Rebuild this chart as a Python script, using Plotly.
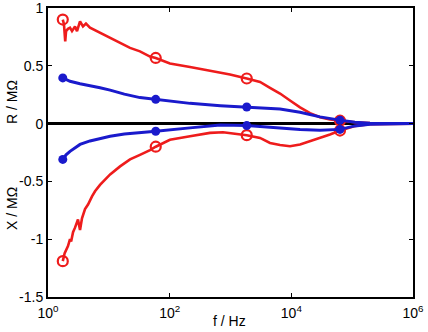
import plotly.graph_objects as go

# frequencies (Hz) of curve samples
red_R_f = [1.75, 1.83, 1.92, 1.98, 2.13, 2.30, 2.48, 2.78, 3.0, 3.36, 3.76, 4.21, 4.90, 7.16,
           10.5, 15.3, 22.3, 32.5, 47.5, 59, 101, 216, 460, 982, 1850, 3060, 4460, 6520,
           9510, 13900, 20300, 29600, 43200, 63100, 111000, 196000, 419000, 1e6]
red_R = [0.90, 0.86, 0.71, 0.80, 0.82, 0.83, 0.80, 0.84, 0.80, 0.885, 0.84, 0.865, 0.83, 0.785,
         0.74, 0.70, 0.655, 0.625, 0.58, 0.568, 0.52, 0.49, 0.46, 0.425, 0.39, 0.36, 0.31, 0.26,
         0.20, 0.14, 0.09, 0.055, 0.035, 0.025, 0.012, 0.005, 0.002, 0.0]

red_X_f = [1.75, 1.88, 2.13, 2.30, 2.40, 2.58, 2.78, 3.11, 3.36, 3.62, 4.06, 4.55, 5.29, 5.93,
           7.16, 10.5, 15.3, 22.3, 32.5, 47.5, 59, 101, 216, 460, 753, 1850, 3060, 4460,
           6520, 9510, 13900, 20300, 29600, 43200, 63100, 111000, 196000, 419000, 1e6]
red_X = [-1.19, -1.12, -1.06, -1.0, -1.02, -0.94, -0.90, -0.83, -0.92, -0.82, -0.74, -0.70, -0.63, -0.585,
         -0.53, -0.44, -0.37, -0.31, -0.27, -0.23, -0.20, -0.14, -0.11, -0.08, -0.075, -0.10, -0.124, -0.167,
         -0.185, -0.196, -0.18, -0.153, -0.124, -0.095, -0.06, -0.02, -0.005, -0.001, 0.0]

blue_R_f = [1.75, 2.30, 3.36, 4.90, 7.16, 10.5, 18.0, 32.5, 59, 216, 680, 1850, 3060, 6520,
            13900, 29600, 63100, 111000, 196000, 1e6]
blue_R = [0.395, 0.366, 0.345, 0.33, 0.31, 0.29, 0.255, 0.225, 0.21, 0.175, 0.155, 0.144, 0.136, 0.127,
          0.098, 0.058, 0.03, 0.012, 0.004, 0.0]

blue_X_f = [1.75, 1.98, 2.30, 3.36, 4.90, 7.16, 10.5, 18.0, 32.5, 59, 216, 680, 1850, 3060,
            6520, 13900, 29600, 63100, 111000, 196000, 1e6]
blue_X = [-0.31, -0.27, -0.24, -0.18, -0.15, -0.13, -0.11, -0.09, -0.08, -0.066, -0.037, -0.012, -0.017, -0.023,
          -0.037, -0.05, -0.058, -0.05, -0.02, -0.005, 0.0]

# marker frequencies and values
mark_f = [1.75, 59, 1850, 63100]
red_R_m = [0.90, 0.568, 0.39, 0.025]
red_X_m = [-1.19, -0.20, -0.10, -0.06]
blue_R_m = [0.395, 0.21, 0.144, 0.03]
blue_X_m = [-0.31, -0.066, -0.017, -0.05]

x_tickvals = [1, 100, 1e4, 1e6]
x_ticktext = ["10<sup>0</sup>", "10<sup>2</sup>", "10<sup>4</sup>", "10<sup>6</sup>"]
y_tickvals = [1, 0.5, 0, -0.5, -1, -1.5]
y_ticktext = ["1", "0.5", "0", "-0.5", "-1", "-1.5"]

RED = "#ee1c1c"
BLUE = "#1a1acc"

fig = go.Figure()
for f, v in [(red_R_f, red_R), (red_X_f, red_X)]:
    fig.add_trace(go.Scatter(x=f, y=v, mode="lines", line=dict(color=RED, width=2.6),
                             showlegend=False, hoverinfo="skip"))
for v in [red_R_m, red_X_m]:
    fig.add_trace(go.Scatter(x=mark_f, y=v, mode="markers",
                             marker=dict(color=RED, size=10, symbol="circle-open",
                                         line=dict(color=RED, width=2.2)),
                             showlegend=False))
for f, v in [(blue_R_f, blue_R), (blue_X_f, blue_X)]:
    fig.add_trace(go.Scatter(x=f, y=v, mode="lines", line=dict(color=BLUE, width=3),
                             showlegend=False, hoverinfo="skip"))
for v in [blue_R_m, blue_X_m]:
    fig.add_trace(go.Scatter(x=mark_f, y=v, mode="markers",
                             marker=dict(color=BLUE, size=9, line=dict(width=0)),
                             showlegend=False))

font = dict(family="Liberation Sans, Arial, sans-serif", size=14, color="black")
L, R, T, B = 48, 15, 8, 35
W, H = 428, 332
fig.update_layout(
    width=W, height=H,
    margin=dict(l=L, r=R, t=T, b=B, autoexpand=False),
    paper_bgcolor="white", plot_bgcolor="white",
    font=font,
    showlegend=False,
    xaxis=dict(type="log", range=[0, 6], tickvals=x_tickvals, ticktext=x_ticktext,
               ticks="inside", ticklen=4, tickwidth=1, tickcolor="black",
               showline=True, linecolor="black", linewidth=2, mirror="allticks",
               showgrid=False, zeroline=False, tickfont=font, automargin=False,
               ticklabeloverflow="allow", ticklabelstandoff=2),
    yaxis=dict(range=[-1.5, 1], tickvals=y_tickvals, ticktext=y_ticktext,
               ticks="inside", ticklen=4, tickwidth=1, tickcolor="black",
               showline=True, linecolor="black", linewidth=2, mirror="allticks",
               showgrid=False, zeroline=True, zerolinecolor="black", zerolinewidth=3,
               tickfont=font, automargin=False, ticklabeloverflow="allow"),
)
pw, ph = W - L - R, H - T - B


def ann(text, px, py, angle=0):
    return dict(text=text, x=(px - L) / pw, y=(H - py - B) / ph, xref="paper", yref="paper",
                showarrow=False, font=font, textangle=angle, xanchor="center", yanchor="middle")


fig.update_layout(annotations=[
    ann("R / MΩ", 12, 102, -90),
    ann("X / MΩ", 12, 209, -90),
    ann("f / Hz", 229, 321),
])

fig.write_html("out.html")
